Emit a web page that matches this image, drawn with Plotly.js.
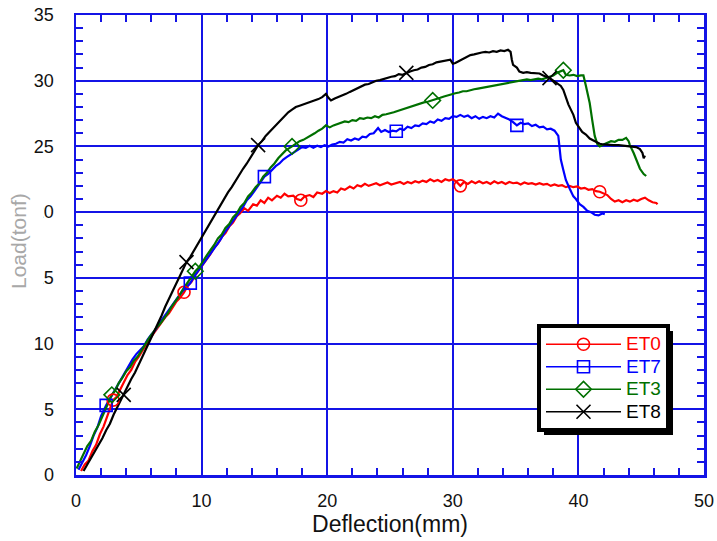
<!DOCTYPE html>
<html>
<head>
<meta charset="utf-8">
<script src="https://cdn.plot.ly/plotly-3.0.1.min.js"></script>
<style>html,body{margin:0;padding:0;background:#fff;}</style>
</head>
<body>
<div id="chart" style="width:717px;height:541px;"></div>
<script>
// ---- data ----
const seriesNames = ["ET0", "ET7", "ET3", "ET8"];
const seriesColors = ["#ff0000", "#0000ff", "#007000", "#000000"];
const seriesSymbols = ["circle-open", "square-open", "diamond-open", "x-thin"];

const et0X = [0.4,0.7,1.0,1.3,1.6,1.9,2.2,2.5,2.95,3.2,3.5,3.8,4.1,4.4,4.7,5.0,5.3,5.6,5.9,6.2,6.5,6.8,7.1,7.4,7.7,8.0,8.3,8.6,8.9,9.2,9.5,9.8,10.1,10.4,10.7,11.0,11.3,11.6,11.9,12.2,12.5,12.8,13.05,13.4,13.7,14.1,14.4,14.7,15.0,15.3,15.6,16.0,16.3,16.6,16.9,17.3,17.6,17.9,18.2,18.6,18.9,19.2,19.6,19.9,20.2,20.5,20.8,21.1,21.4,21.8,22.1,22.4,22.7,23.0,23.3,23.6,23.9,24.2,24.5,24.8,25.1,25.4,25.8,26.1,26.4,26.7,27.0,27.3,27.6,27.9,28.2,28.5,28.8,29.1,29.4,29.7,30.0,30.3,30.6,30.9,31.2,31.5,31.8,32.1,32.4,32.7,33.0,33.3,33.6,33.9,34.2,34.5,34.8,35.1,35.4,35.7,36.0,36.3,36.6,36.9,37.2,37.5,37.8,38.1,38.4,38.7,39.0,39.3,39.6,39.9,40.2,40.5,40.8,41.1,41.4,41.7,42.0,42.3,42.6,42.9,43.2,43.5,43.8,44.1,44.4,44.7,45.0,45.3,45.6,45.9,46.2,46.3];
const et0Y = [0.3,0.8,1.1,1.8,2.3,3.1,3.7,4.5,5.7,5.9,6.5,7.0,7.6,8.0,8.6,9.0,9.5,9.9,10.4,10.8,11.2,11.6,12.0,12.3,12.8,13.2,13.5,13.9,14.4,14.7,15.2,15.6,16.0,16.4,16.8,17.3,17.6,18.1,18.4,18.9,19.2,19.7,19.9,20.3,20.1,20.6,20.5,20.9,20.7,21.1,20.9,21.25,21.1,21.4,21.2,21.25,21.0,20.9,21.2,21.3,21.15,21.5,21.4,21.6,21.45,21.6,21.5,21.8,21.7,21.95,21.8,22.05,21.95,22.15,22.0,22.1,22.2,22.05,22.15,22.25,22.1,22.2,22.3,22.15,22.3,22.2,22.35,22.25,22.4,22.3,22.5,22.35,22.45,22.3,22.5,22.4,22.5,22.3,22.0,22.3,22.15,22.35,22.2,22.35,22.2,22.3,22.15,22.35,22.2,22.3,22.15,22.3,22.2,22.25,22.1,22.25,22.15,22.2,22.1,22.2,22.1,22.15,22.0,22.1,22.0,22.05,21.9,22.0,21.9,21.95,21.8,21.85,21.7,21.75,21.6,21.55,21.45,21.3,21.0,20.8,20.9,20.75,20.9,20.8,20.95,20.85,21.0,21.1,20.9,20.75,20.7,20.6];

const et7X = [0.2,0.5,0.8,1.1,1.4,1.7,2.0,2.4,2.7,3.0,3.3,3.6,3.9,4.2,4.5,4.8,5.1,5.4,5.7,6.0,6.3,6.6,6.9,7.2,7.5,7.8,8.1,8.4,8.7,9.1,9.4,9.7,10.0,10.3,10.6,10.9,11.2,11.5,11.8,12.1,12.4,12.7,13.0,13.3,13.6,13.9,14.2,14.5,14.8,15.0,15.3,15.6,15.9,16.2,16.5,16.8,17.1,17.4,17.7,18.0,18.3,18.6,18.9,19.2,19.5,19.8,20.1,20.4,20.7,21.0,21.3,21.6,21.9,22.2,22.5,22.8,23.1,23.4,23.7,24.05,24.3,24.6,24.9,25.2,25.5,25.8,26.1,26.4,26.7,27.0,27.3,27.6,27.9,28.2,28.5,28.8,29.1,29.4,29.7,30.0,30.3,30.6,30.9,31.2,31.5,31.8,32.1,32.4,32.7,33.0,33.3,33.6,33.9,34.2,34.5,34.8,35.1,35.4,35.7,36.0,36.3,36.6,36.9,37.2,37.5,37.8,38.1,38.4,38.5,38.6,38.8,39.0,39.3,39.6,39.8,40.1,40.4,40.7,41.0,41.3,41.6,41.9,42.1];
const et7Y = [0.4,0.9,1.5,2.2,3.0,3.6,4.5,5.3,5.8,6.3,6.8,7.4,7.9,8.3,8.8,9.2,9.5,9.8,10.3,10.7,11.0,11.5,11.9,12.3,12.7,13.1,13.5,13.9,14.2,14.6,15.1,15.5,15.9,16.3,16.7,17.1,17.5,17.9,18.4,18.8,19.2,19.6,20.0,20.4,20.9,21.2,21.6,22.0,22.4,22.7,22.9,23.2,23.5,23.7,24.0,24.2,24.4,24.6,24.75,24.95,24.9,25.05,24.9,25.05,24.95,25.1,25.0,25.15,25.2,25.35,25.3,25.55,25.45,25.6,25.5,25.75,25.7,25.95,26.0,26.4,26.1,26.25,26.1,26.2,26.15,26.35,26.25,26.5,26.4,26.6,26.55,26.75,26.7,26.9,26.8,27.05,26.95,27.15,27.1,27.3,27.25,27.4,27.25,27.35,27.15,27.3,27.1,27.25,27.15,27.3,27.2,27.5,27.3,27.2,27.05,26.85,26.6,26.8,26.7,26.75,26.55,26.65,26.45,26.5,26.3,26.35,26.2,25.8,25.1,24.0,23.2,22.45,21.8,21.2,21.0,20.6,20.4,20.1,20.0,19.8,19.75,19.9,19.85];

const et3X = [0.05,0.3,0.6,0.9,1.2,1.5,1.8,2.1,2.4,2.85,3.1,3.4,3.7,4.0,4.3,4.6,4.9,5.2,5.5,5.8,6.1,6.4,6.7,7.0,7.3,7.6,7.9,8.2,8.5,8.8,9.1,9.5,9.8,10.1,10.4,10.7,11.0,11.3,11.6,11.9,12.2,12.5,12.8,13.1,13.4,13.7,14.0,14.3,14.6,14.9,15.2,15.5,15.8,16.1,16.4,16.7,17.2,17.5,17.8,18.1,18.4,18.7,19.0,19.3,19.6,19.9,20.2,20.5,20.8,21.1,21.4,21.7,22.0,22.3,22.6,22.9,23.2,23.5,23.8,24.1,24.4,24.7,25.0,25.3,25.6,25.9,26.2,26.5,26.8,27.1,27.4,27.7,28.0,28.4,28.7,29.0,29.3,29.6,29.9,30.2,30.5,30.8,31.1,31.4,31.7,32.0,32.3,32.6,32.9,33.2,33.5,33.8,34.1,34.4,34.7,35.0,35.3,35.6,35.9,36.2,36.5,36.8,37.1,37.4,37.7,38.0,38.3,38.6,38.8,39.0,39.3,39.6,39.9,40.2,40.4,40.6,40.9,41.1,41.3,41.5,41.7,42.0,42.3,42.6,42.9,43.2,43.5,43.8,44.0,44.1,44.4,44.7,44.9,45.2,45.4];
const et3Y = [0.5,1.0,1.5,2.2,2.6,3.3,3.8,4.5,5.1,6.1,6.4,7.0,7.4,7.9,8.2,8.7,9.0,9.5,9.9,10.4,10.8,11.2,11.5,11.9,12.3,12.8,13.2,13.6,14.1,14.5,14.9,15.5,15.8,16.3,16.7,17.1,17.5,18.0,18.3,18.8,19.1,19.6,19.9,20.4,20.7,21.2,21.5,21.9,22.2,22.7,23.0,23.4,23.7,24.1,24.4,24.7,25.0,25.2,25.4,25.5,25.65,25.8,26.0,26.2,26.35,26.6,26.45,26.6,26.7,26.75,26.9,26.85,27.0,26.95,27.15,27.1,27.2,27.15,27.3,27.2,27.4,27.45,27.5,27.6,27.7,27.8,27.9,28.0,28.1,28.2,28.25,28.35,28.4,28.5,28.6,28.7,28.8,28.9,28.95,29.05,29.1,29.2,29.2,29.3,29.35,29.4,29.45,29.5,29.55,29.6,29.7,29.7,29.8,29.8,29.85,29.9,29.95,30.0,30.1,30.05,30.1,30.15,30.1,30.2,30.3,30.4,30.6,30.75,30.8,30.45,30.4,30.45,30.35,30.4,30.4,29.6,28.3,27.0,25.8,25.2,25.0,25.15,25.3,25.4,25.35,25.5,25.5,25.65,25.4,25.1,24.5,23.8,23.3,22.9,22.75];

const et8X = [0.6,0.9,1.2,1.5,1.8,2.1,2.4,2.7,3.0,3.3,3.6,3.8,4.1,4.4,4.7,5.0,5.3,5.6,5.9,6.2,6.5,6.8,7.1,7.4,7.7,8.0,8.3,8.6,8.8,9.1,9.4,9.7,10.0,10.3,10.6,10.9,11.2,11.5,11.8,12.1,12.4,12.7,13.0,13.3,13.6,13.9,14.2,14.5,14.8,15.1,15.4,15.7,16.0,16.3,16.6,16.9,17.2,17.5,17.8,18.1,18.4,18.7,19.0,19.3,19.6,19.9,20.1,20.3,20.6,20.9,21.2,21.5,21.8,22.1,22.4,22.7,23.0,23.3,23.6,23.9,24.2,24.5,24.8,25.1,25.4,25.7,26.0,26.3,26.6,26.9,27.2,27.5,27.8,28.1,28.4,28.7,29.0,29.3,29.6,29.8,30.0,30.2,30.5,30.8,31.1,31.4,31.7,32.0,32.3,32.6,32.9,33.2,33.5,33.8,34.1,34.4,34.6,34.7,34.8,35.1,35.3,35.6,35.9,36.2,36.5,36.9,37.2,37.5,37.7,38.0,38.3,38.6,38.8,39.0,39.2,39.4,39.6,39.8,40.0,40.3,40.6,40.9,41.2,41.5,41.7,42.0,42.4,42.8,43.2,43.6,44.0,44.3,44.6,44.9,45.1,45.2,45.3];
const et8Y = [0.3,0.8,1.2,1.7,2.3,2.8,3.4,3.9,4.6,5.2,5.7,6.1,6.7,7.3,7.8,8.4,9.0,9.6,10.2,10.8,11.5,12.1,12.8,13.4,14.1,14.7,15.3,15.8,16.2,16.6,17.1,17.6,18.1,18.6,19.1,19.6,20.1,20.5,21.0,21.5,21.9,22.4,22.8,23.3,23.7,24.2,24.6,25.1,25.4,25.8,26.1,26.4,26.7,27.0,27.3,27.6,27.8,28.0,28.1,28.2,28.3,28.35,28.5,28.6,28.75,29.0,28.7,28.5,28.65,28.75,28.85,29.0,29.15,29.3,29.4,29.55,29.7,29.75,29.9,30.0,30.05,30.15,30.2,30.3,30.35,30.5,30.45,30.6,30.7,30.8,30.85,31.0,31.05,31.2,31.25,31.4,31.45,31.5,31.55,31.6,31.3,31.35,31.5,31.65,31.8,31.95,32.0,32.1,32.15,32.2,32.15,32.25,32.2,32.3,32.25,32.35,32.2,31.6,31.2,31.0,30.7,30.6,30.65,30.6,30.6,30.55,30.4,30.3,30.2,30.0,29.8,29.6,29.3,28.7,28.2,27.8,27.4,26.8,26.5,26.1,25.9,25.6,25.45,25.3,25.2,25.15,25.1,25.1,25.1,25.05,25.05,25.0,24.95,24.8,24.5,24.1,24.3];

// marker positions along each curve
const et0MarkX = [2.95, 8.6, 17.9, 30.6, 41.7];
const et0MarkY = [5.7, 13.9, 20.9, 22.0, 21.55];
const et7MarkX = [2.4, 9.1, 15.0, 25.5, 35.1];
const et7MarkY = [5.3, 14.6, 22.7, 26.15, 26.6];
const et3MarkX = [2.85, 9.5, 17.2, 28.4, 38.8];
const et3MarkY = [6.1, 15.5, 25.0, 28.5, 30.8];
const et8MarkX = [3.8, 8.8, 14.5, 26.3, 37.7];
const et8MarkY = [6.1, 16.2, 25.1, 30.6, 30.2];

const xTickVals = [0, 10, 20, 30, 40, 50];
const yTickVals = [0, 5, 10, 15, 20, 25, 30, 35];

// ---- build ----
const lineX = [et0X, et7X, et3X, et8X];
const lineY = [et0Y, et7Y, et3Y, et8Y];
const markX = [et0MarkX, et7MarkX, et3MarkX, et8MarkX];
const markY = [et0MarkY, et7MarkY, et3MarkY, et8MarkY];

const traces = [];
for (let i = 0; i < 4; i++) {
  traces.push({
    x: lineX[i], y: lineY[i], type: 'scatter', mode: 'lines',
    line: {color: seriesColors[i], width: 2.2}, showlegend: false, hoverinfo: 'skip'
  });
}
for (let i = 0; i < 4; i++) {
  traces.push({
    x: markX[i], y: markY[i], type: 'scatter', mode: 'markers',
    marker: {symbol: seriesSymbols[i], size: i === 3 ? 14 : 12, color: seriesColors[i],
             line: {color: seriesColors[i], width: 1.6}},
    showlegend: false, hoverinfo: 'skip'
  });
}
for (let i = 0; i < 4; i++) {
  traces.push({
    x: [null], y: [null], type: 'scatter', mode: 'lines+markers',
    name: '<span style="color:' + seriesColors[i] + ';font-size:19px">' + seriesNames[i] + '</span>',
    line: {color: seriesColors[i], width: 1.5},
    marker: {symbol: seriesSymbols[i], size: i === 3 ? 14 : 12, color: seriesColors[i],
             line: {color: seriesColors[i], width: 1.6}}
  });
}

const BLUE = '#1414e6';
const FONT = 'Liberation Sans, Arial, sans-serif';
const W = 717, H = 541, ML = 76, MR = 13, MT = 15, MB = 66;
const PW = W - ML - MR, PH = H - MT - MB;
const px = v => (v - ML) / PW;
const py = v => (H - MB - v) / PH;

const axisCommon = {
  showgrid: true, gridcolor: BLUE, gridwidth: 2,
  showline: true, linecolor: BLUE, linewidth: 2.5, mirror: 'allticks',
  ticks: 'inside', ticklen: 12, tickwidth: 2, tickcolor: BLUE,
  zeroline: false, fixedrange: true,
  tickfont: {family: FONT, size: 18, color: '#111'}
};

const layout = {
  width: W, height: H,
  margin: {l: ML, r: MR, t: MT, b: MB, pad: 0},
  paper_bgcolor: '#fff', plot_bgcolor: '#fff',
  font: {family: FONT},
  xaxis: Object.assign({}, axisCommon, {
    range: [0, 50], tickmode: 'array', tickvals: xTickVals,
    minor: {dtick: 2, tick0: 0, ticks: 'inside', ticklen: 7, tickwidth: 2, tickcolor: BLUE, showgrid: false},
    ticklabelstandoff: 8,
    title: {text: 'Deflection(mm)', font: {family: FONT, size: 23, color: '#111'}, standoff: 0}
  }),
  yaxis: Object.assign({}, axisCommon, {
    range: [0, 35], tickmode: 'array', tickvals: yTickVals,
    minor: {dtick: 1, tick0: 0, ticks: 'inside', ticklen: 7, tickwidth: 2, tickcolor: BLUE, showgrid: false},
    ticklabelstandoff: 16
  }),
  legend: {
    x: px(537), y: py(324), xanchor: 'left', yanchor: 'top',
    bgcolor: '#fff', bordercolor: '#000', borderwidth: 4,
    font: {family: FONT, size: 15, color: '#000'},
    itemwidth: 75, tracegroupgap: 0
  },
  shapes: [
    {type: 'rect', xref: 'paper', yref: 'paper', layer: 'above',
     x0: px(542), x1: px(673), y0: py(329), y1: py(436),
     fillcolor: '#000', line: {width: 0}},
    {type: 'rect', xref: 'paper', yref: 'paper', layer: 'above',
     x0: px(4), x1: px(43), y0: py(185), y1: py(300),
     fillcolor: '#fff', line: {width: 0}}
  ],
  annotations: [
    {text: 'Load(tonf)', xref: 'paper', yref: 'paper', x: px(18), y: py(241),
     xanchor: 'center', yanchor: 'middle', textangle: -90, showarrow: false,
     font: {family: FONT, size: 21, color: '#a8a8a8'}}
  ]
};

const gd = document.getElementById('chart');
Plotly.newPlot(gd, traces, layout, {displayModeBar: false, staticPlot: true}).then(() => {
  // place the legend's drop shadow from the legend's rendered box
  const bg = gd.querySelector('.legend .bg');
  if (!bg) return;
  const r = bg.getBoundingClientRect();
  const c = gd.getBoundingClientRect();
  const L = r.left - c.left, T = r.top - c.top, R = r.right - c.left, B = r.bottom - c.top;
  Plotly.relayout(gd, {
    'shapes[0].x0': px(L + 5), 'shapes[0].x1': px(R + 5),
    'shapes[0].y0': py(T + 5), 'shapes[0].y1': py(B + 5)
  });
});
</script>
</body>
</html>
